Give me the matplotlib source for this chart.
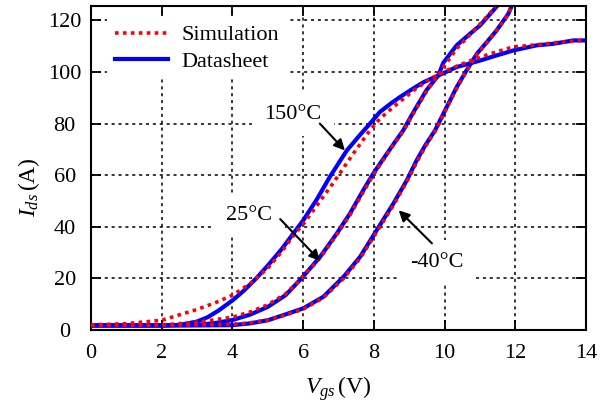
import matplotlib
matplotlib.use('Agg')
import matplotlib.pyplot as plt

plt.rcParams['font.family'] = ['Liberation Serif', 'DejaVu Serif']
plt.rcParams['mathtext.fontset'] = 'custom'
plt.rcParams['mathtext.rm'] = 'Liberation Serif'
plt.rcParams['mathtext.it'] = 'Liberation Serif:italic'

vgs_150_ds = [0, 1, 2, 2.5, 3, 3.3, 3.6, 4, 4.3, 4.67, 5, 5.4, 5.72, 6, 6.38, 6.76, 7.23, 7.6,
              7.89, 8.17, 8.5, 8.74, 9.1, 9.4, 9.82, 10.34, 11.0, 11.47, 11.94, 12.6, 13.07, 13.64, 14]
ids_150_ds = [1.8, 1.8, 1.8, 2.0, 3.3, 5, 7.5, 11.5, 15, 20, 25, 31.5, 37.4, 42.5, 50.5, 59.5, 69.5, 75.5,
              80, 84.5, 88, 90.3, 93.5, 96, 98.6, 101.9, 104.4, 106.4, 108.3, 110.3, 110.9, 112.2, 112.2]
vgs_150_sim = [0, 1, 2, 3, 3.5, 4, 4.5, 5, 5.4, 5.72, 6.0, 6.4, 6.85, 7.42, 7.89, 8.17, 8.55, 9.12,
               9.59, 10.06, 10.62, 11.28, 11.94, 12.6, 13.17, 14]
ids_150_sim = [2.0, 2.5, 3.8, 8, 10.5, 13.5, 18, 24, 30.5, 36.5, 41, 48.5, 57, 68.4, 77.4, 81.9, 86.4, 92.8,
               97.3, 100.6, 103.8, 107.0, 109.7, 110.5, 111.4, 112.3]

vgs_25_ds = [0, 2, 3, 3.5, 4, 4.5, 5, 5.5, 5.95, 6.48, 6.95, 7.32, 7.7, 7.98, 8.46, 8.83, 9.12,
             9.49, 9.82, 9.96, 10.34, 10.72, 11.0, 11.33, 11.45]
ids_25_ds = [1.8, 1.8, 2.0, 2.7, 3.9, 6.0, 9.0, 13.5, 20, 28.4, 37.4, 45.1, 54.2, 60.6, 70.2, 77.4, 84.5,
             93.0, 98.6, 103.5, 110.3, 114.8, 118.0, 123.1, 125]
vgs_25_sim = [0, 2, 3, 4, 4.5, 5, 5.5, 5.95, 6.48, 6.95, 7.32, 7.7, 7.98, 8.46, 8.83, 9.12, 9.49,
              9.82, 10.0, 10.34, 10.72, 11.0, 11.33, 11.45]
ids_25_sim = [1.8, 2.0, 3.0, 5.0, 7.0, 9.8, 14, 20, 28, 37, 44.5, 53.5, 60, 70.0, 77.0, 84, 92.5,
              98.8, 102.5, 109, 114.5, 118.5, 123.5, 125]

vgs_m40_ds = [0, 2, 3, 4, 4.5, 5.0, 5.44, 6.0, 6.57, 7.14, 7.61, 8.08, 8.55, 8.93, 9.21, 9.45, 9.73,
              10.06, 10.34, 10.62, 10.91, 11.19, 11.47, 11.8, 11.88]
ids_m40_ds = [1.8, 1.8, 1.8, 1.9, 2.6, 3.8, 5.8, 8.4, 12.9, 20.6, 28.4, 38.7, 49.0, 58.0, 65.8, 71.5, 77.4,
              86.4, 94.1, 100.6, 107, 111.5, 116.1, 122.5, 125]
vgs_m40_sim = [0, 2, 3, 4, 4.5, 5.0, 5.44, 6.0, 6.57, 7.14, 7.61, 8.08, 8.55, 8.93, 9.21, 9.45, 9.73,
               10.06, 10.34, 10.62, 10.91, 11.19, 11.47, 11.8, 11.88]
ids_m40_sim = [1.8, 1.9, 2.0, 2.2, 2.8, 3.9, 5.6, 8.1, 12.5, 20.0, 27.8, 38.0, 48.3, 57.5, 65.0, 71.0, 77.0,
               86.0, 93.6, 100.4, 106.8, 111.2, 116.0, 122.3, 125]

curves = [(vgs_150_ds, ids_150_ds, vgs_150_sim, ids_150_sim),
          (vgs_25_ds, ids_25_ds, vgs_25_sim, ids_25_sim),
          (vgs_m40_ds, ids_m40_ds, vgs_m40_sim, ids_m40_sim)]

# (label, text pos, arrow start, arrow tip)
labels = [('150°C', (5.71, 83.5), (6.47, 80.0), (7.18, 69.6)),
          ('25°C', (4.47, 44.5), (5.35, 43.0), (6.48, 26.8)),
          ('-40°C', (9.79, 26.3), (9.64, 33.6), (8.70, 46.4))]

fig = plt.figure(figsize=(6.15, 4.07), dpi=100)
ax = fig.add_axes([0.148, 0.189, 0.805, 0.796])

for i, (xd, yd, xs, ys) in enumerate(curves):
    ax.plot(xd, yd, color='#0000ff', lw=3.0, zorder=2,
            label='Datasheet' if i == 0 else None)
    ax.plot(xs, ys, color='#ff0000', lw=2.6, linestyle=(0, (1, 1.2)), zorder=3,
            label='Simulation' if i == 0 else None)

for txt, pos, start, tip in labels:
    ax.text(pos[0], pos[1], txt, fontsize=16, ha='center', va='center', zorder=1.5,
            bbox=dict(facecolor='white', edgecolor='none', pad=9))
    ax.annotate('', xy=tip, xytext=start, zorder=4,
                arrowprops=dict(arrowstyle='-|>', color='k', lw=1.5, mutation_scale=16,
                                shrinkA=0, shrinkB=0))

ax.set_xlim(0, 14)
ax.set_ylim(0, 125.5)
ax.set_xticks(range(0, 15, 2))
ax.set_yticks(range(0, 121, 20))
ax.set_axisbelow(True)
ax.grid(True, color='k', linestyle=(0, (2, 2.5)), linewidth=1.1)
ax.tick_params(direction='in', top=True, right=True, length=7, width=1.3, labelsize=16)
ax.tick_params(axis='y', pad=19)
ax.tick_params(axis='x', pad=10)
for lab in ax.get_yticklabels():
    lab.set_ha('center')
for sp in ax.spines.values():
    sp.set_linewidth(1.5)

ax.set_xlabel(r'$V_{gs}\,$(V)', fontsize=17)
ax.set_ylabel(r'$I_{ds}\,$(A)', fontsize=17)
ax.xaxis.set_label_coords(0.5, -0.135)
ax.yaxis.set_label_coords(-0.10, 0.44)

handles, names = ax.get_legend_handles_labels()
order = [1, 0]
leg = ax.legend([handles[k] for k in order], [names[k] for k in order],
                loc='upper left', bbox_to_anchor=(0.032, 0.966), borderaxespad=0,
                frameon=True, facecolor='white', edgecolor='none', framealpha=1,
                fancybox=False, fontsize=16, handlelength=2.4, handletextpad=0.6,
                labelspacing=0.25, borderpad=0.35)

fig.savefig('out.png', dpi=100)
